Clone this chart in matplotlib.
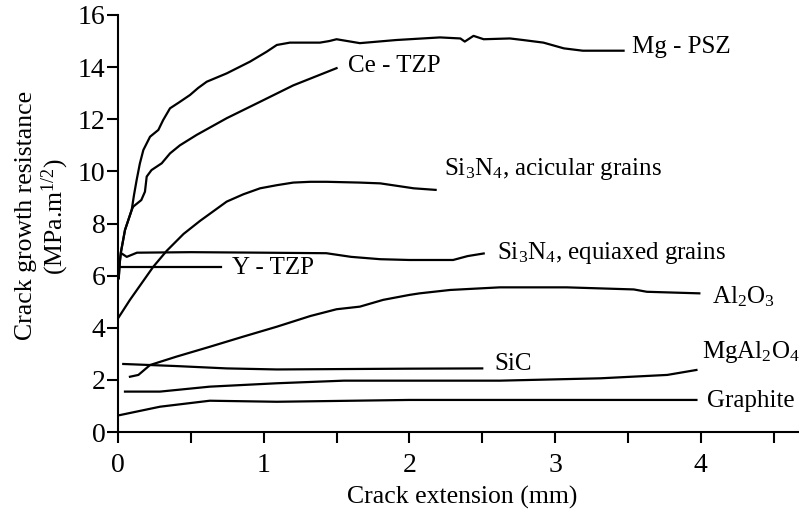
import matplotlib
matplotlib.use("Agg")
from matplotlib import pyplot as plt

plt.rcParams["font.family"] = ["Liberation Serif", "DejaVu Serif"]
plt.rcParams["mathtext.fontset"] = "custom"
plt.rcParams["mathtext.rm"] = "Liberation Serif"
plt.rcParams["mathtext.it"] = "Liberation Serif:italic"

# crack extension (mm) / crack growth resistance (MPa.m^1/2)
mgpsz_x = [0.005, 0.012, 0.02, 0.048, 0.094, 0.11, 0.128, 0.15, 0.174, 0.22, 0.277, 0.31, 0.357,
           0.42, 0.494, 0.55, 0.609, 0.746, 0.906, 1.02, 1.09, 1.18, 1.386, 1.45, 1.50, 1.66,
           1.91, 2.21, 2.35, 2.38, 2.44, 2.51, 2.69, 2.78, 2.92, 3.06, 3.19, 3.47]
mgpsz_y = [5.9, 6.5, 6.9, 7.75, 8.52, 9.1, 9.67, 10.3, 10.82, 11.33, 11.59, 11.97, 12.42,
           12.65, 12.93, 13.2, 13.44, 13.76, 14.21, 14.59, 14.85, 14.94, 14.94, 15.0, 15.07, 14.92,
           15.04, 15.14, 15.1, 14.98, 15.2, 15.07, 15.1, 15.04, 14.94, 14.72, 14.63, 14.63]

cetzp_x = [0.005, 0.012, 0.02, 0.048, 0.094, 0.105, 0.16, 0.185, 0.197, 0.23, 0.30, 0.357,
           0.425, 0.54, 0.746, 0.975, 1.203, 1.50]
cetzp_y = [5.9, 6.5, 6.9, 7.75, 8.52, 8.65, 8.9, 9.22, 9.8, 10.05, 10.31, 10.69,
           11.0, 11.4, 12.04, 12.67, 13.3, 13.96]

acic_x = [0.0, 0.082, 0.174, 0.242, 0.334, 0.45, 0.563, 0.746, 0.86, 0.975, 1.09, 1.203,
          1.32, 1.432, 1.66, 1.80, 2.03, 2.18]
acic_y = [4.36, 5.07, 5.8, 6.34, 6.95, 7.6, 8.1, 8.84, 9.12, 9.35, 9.47, 9.57,
          9.6, 9.6, 9.57, 9.54, 9.35, 9.29]

equi_x = [0.025, 0.06, 0.13, 0.5, 1.0, 1.43, 1.6, 1.8, 2.0, 2.3, 2.4, 2.51]
equi_y = [6.85, 6.72, 6.88, 6.9, 6.88, 6.86, 6.72, 6.63, 6.6, 6.6, 6.75, 6.85]

ytzp_x = [0.0, 0.71]
ytzp_y = [6.33, 6.33]

al2o3_x = [0.082, 0.14, 0.22, 0.40, 0.63, 0.86, 1.09, 1.32, 1.50, 1.66, 1.82, 2.0, 2.07,
           2.28, 2.62, 3.08, 3.54, 3.63, 3.99]
al2o3_y = [2.12, 2.19, 2.57, 2.89, 3.27, 3.66, 4.04, 4.45, 4.71, 4.81, 5.07, 5.26, 5.32,
           5.45, 5.55, 5.55, 5.47, 5.38, 5.32]

sic_x = [0.036, 0.40, 0.746, 1.09, 2.0, 2.50]
sic_y = [2.61, 2.53, 2.44, 2.40, 2.43, 2.44]

mgal_x = [0.048, 0.288, 0.63, 1.09, 1.55, 2.0, 2.62, 3.31, 3.77, 3.97]
mgal_y = [1.55, 1.55, 1.74, 1.87, 1.97, 1.97, 1.97, 2.06, 2.19, 2.38]

graph_x = [0.014, 0.288, 0.63, 1.09, 2.0, 3.97]
graph_y = [0.65, 0.97, 1.2, 1.16, 1.23, 1.23]

curves = [
    (mgpsz_x, mgpsz_y),
    (cetzp_x, cetzp_y),
    (acic_x, acic_y),
    (equi_x, equi_y),
    (ytzp_x, ytzp_y),
    (al2o3_x, al2o3_y),
    (sic_x, sic_y),
    (mgal_x, mgal_y),
    (graph_x, graph_y),
]

labels = [
    ("Mg - PSZ", 3.53, 14.77),
    ("Ce - TZP", 1.58, 14.04),
    ("Si$_3$N$_4$, acicular grains", 2.24, 10.1),
    ("Si$_3$N$_4$, equiaxed grains", 2.60, 6.85),
    ("Y - TZP", 0.78, 6.3),
    ("Al$_2$O$_3$", 4.08, 5.2),
    ("SiC", 2.58, 2.6),
    ("MgAl$_2$O$_4$", 4.01, 3.07),
    ("Graphite", 4.04, 1.19),
]

fig = plt.figure(figsize=(7.99, 5.16), dpi=100)
ax = fig.add_axes([118 / 799, 84 / 516, 681 / 799, 417 / 516])

for cx, cy in curves:
    ax.plot(cx, cy, color="black", linewidth=1.6, solid_joinstyle="round")

for txt, tx, ty in labels:
    ax.text(tx, ty, txt, fontsize=18, ha="left", va="center")

ax.set_xlim(0, 4.674)
ax.set_ylim(0, 16)
ax.set_xticks([0, 0.5, 1, 1.5, 2, 2.5, 3, 3.5, 4, 4.5])
ax.set_xticklabels(["0", "", "1", "", "2", "", "3", "", "4", ""])
ax.set_yticks([0, 2, 4, 6, 8, 10, 12, 14, 16])
ax.spines["top"].set_visible(False)
ax.spines["right"].set_visible(False)
for s in ["left", "bottom"]:
    ax.spines[s].set_linewidth(1.5)
ax.tick_params(axis="both", direction="out", length=8, width=1.5, labelsize=20)
ax.tick_params(axis="x", pad=7)
ax.tick_params(axis="y", pad=1)

fig.text(26 / 799, 1 - 215 / 516, "Crack growth resistance", rotation=90,
         fontsize=18.5, ha="center", va="center")
fig.text(55 / 799, 1 - 217 / 516, "(MPa.m$^{1/2}$)", rotation=90,
         fontsize=18.5, ha="center", va="center")
fig.text(462 / 799, 1 - 497 / 516, "Crack extension (mm)", fontsize=18.5,
         ha="center", va="center")

fig.savefig("out.png", dpi=100)
